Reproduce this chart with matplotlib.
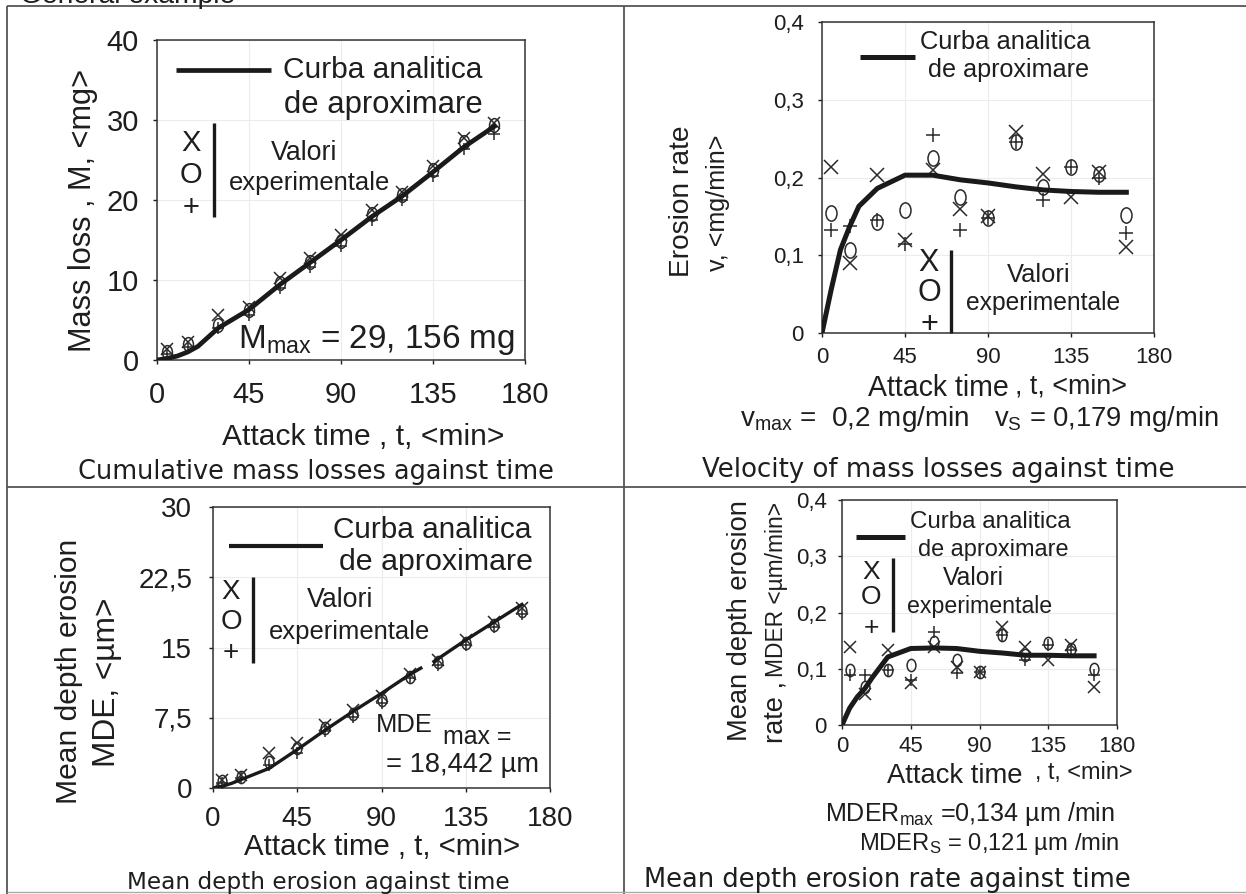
import matplotlib
matplotlib.use('Agg')
import matplotlib.pyplot as plt
import numpy as np
from matplotlib.path import Path
from matplotlib.transforms import Affine2D
from matplotlib.lines import Line2D

# ---------------- data ----------------
t_pts = [5, 15, 30, 45, 60, 75, 90, 105, 120, 135, 150, 165]
t_curve = [0, 5, 10, 15, 20, 30, 45, 60, 75, 90, 105, 120, 135, 150, 165]

# Panel 1: cumulative mass loss (mg)
m_curve = [0, 0.2, 0.5, 1.0, 1.7, 4.0, 6.3, 9.4, 12.2, 15.0, 17.9, 20.5, 23.5, 26.6, 29.2]
m_x = [1.4, 2.3, 5.6, 6.6, 10.2, 12.8, 15.6, 18.8, 21.0, 24.2, 27.8, 29.6]
m_o = [1.0, 2.0, 4.4, 6.2, 9.6, 12.2, 14.9, 18.2, 20.6, 23.8, 27.2, 29.4]
m_p = [0.7, 1.6, 4.0, 5.6, 9.0, 11.6, 14.2, 17.5, 20.0, 23.0, 26.4, 28.2]

# Panel 2: erosion rate (mg/min)
v_curve = [0, 0.056, 0.107, 0.137, 0.163, 0.186, 0.203, 0.203, 0.197, 0.193, 0.188, 0.184, 0.182, 0.181, 0.181]
v_x = [0.214, 0.090, 0.203, 0.120, 0.210, 0.160, 0.150, 0.259, 0.205, 0.175, 0.207, 0.111]
v_o = [0.154, 0.107, 0.143, 0.158, 0.225, 0.175, 0.148, 0.246, 0.188, 0.214, 0.205, 0.152]
v_p = [0.133, 0.137, 0.145, 0.115, 0.255, 0.133, 0.148, 0.246, 0.171, 0.214, 0.200, 0.128]

# Panel 3: mean depth erosion (um)
t_curve3 = [0, 5, 10, 15, 20, 30, 45, 60, 75, 90, 105, 111, 114, 118, 135, 150, 165]
mde_curve = [0, 0.2, 0.5, 0.9, 1.3, 2.1, 4.1, 6.2, 8.2, 10.1, 12.1, 12.8, np.nan, 13.5, 15.8, 17.7, 19.6]
mde_x = [0.9, 1.4, 3.7, 4.8, 6.7, 8.3, 9.8, 12.2, 13.7, 15.8, 17.7, 19.2]
mde_o = [0.7, 1.2, 2.8, 4.3, 6.4, 7.9, 9.4, 11.9, 13.4, 15.5, 17.4, 18.9]
mde_p = [0.5, 1.1, 2.5, 3.7, 6.1, 7.6, 9.1, 11.7, 13.1, 15.3, 17.2, 18.6]

# Panel 4: mean depth erosion rate (um/min)
r_curve = [0, 0.030, 0.050, 0.065, 0.085, 0.121, 0.136, 0.137, 0.136, 0.131, 0.128, 0.124, 0.124, 0.123, 0.123]
r_x = [0.139, 0.056, 0.133, 0.074, 0.139, 0.104, 0.095, 0.175, 0.139, 0.116, 0.142, 0.068]
r_o = [0.098, 0.068, 0.098, 0.107, 0.148, 0.116, 0.095, 0.160, 0.124, 0.145, 0.136, 0.100]
r_p = [0.089, 0.089, 0.098, 0.080, 0.166, 0.092, 0.095, 0.160, 0.116, 0.142, 0.133, 0.089]

x_ticks = [0, 45, 90, 135, 180]
x_ticklabels = ['0', '45', '90', '135', '180']
y1_ticks = [0, 10, 20, 30, 40]
y1_labels = ['0', '10', '20', '30', '40']
yv_ticks = [0, 0.1, 0.2, 0.3, 0.4]
yv_labels = ['0', '0,1', '0,2', '0,3', '0,4']
y3_ticks = [0, 7.5, 15, 22.5, 30]
y3_labels = ['0', '7,5', '15', '22,5', '30']

# ---------------- style ----------------
W, H = 1246, 894
plt.rcParams['font.family'] = ['Liberation Sans', 'DejaVu Sans']
plt.rcParams['mathtext.fontset'] = 'custom'
plt.rcParams['mathtext.rm'] = 'Liberation Sans'
plt.rcParams['mathtext.it'] = 'Liberation Sans'
plt.rcParams['mathtext.bf'] = 'Liberation Sans'
TXT = '#1e1e1e'
LINE = '#1a1a1a'
MK = '#2a2a2a'
MU = '\u00b5'

fig = plt.figure(figsize=(W / 100, H / 100), dpi=100)
fig.patch.set_facecolor('white')
renderer = fig.canvas.get_renderer()


def put(s, x, y, length=None, size=14, rot=0, ha='center', va='center', family=None,
        color=TXT, **extra):
    kw = dict(extra)
    if family:
        kw['family'] = family
    t = fig.text(x / W, 1 - y / H, s, fontsize=size, rotation=rot, ha=ha, va=va, color=color, **kw)
    if length:
        bb = t.get_window_extent(renderer=renderer)
        cur = bb.height if rot else bb.width
        t.set_fontsize(size * length / cur)
    return t


def fline(x0, y0, x1, y1, lw=1.0, color='#555555'):
    fig.add_artist(Line2D([x0 / W, x1 / W], [1 - y0 / H, 1 - y1 / H], transform=fig.transFigure,
                          lw=lw, color=color, solid_capstyle='butt'))


def make_ax(l, t, r, b):
    return fig.add_axes([l / W, 1 - b / H, (r - l) / W, (b - t) / H])


ellipse = Path.unit_circle().transformed(Affine2D().scale(0.72, 1.0))


def style_ax(ax, ylim, yticks, ylabels, fs, xpad, ypad):
    ax.set_xlim(0, 180)
    ax.set_ylim(*ylim)
    ax.set_xticks(x_ticks)
    ax.set_xticklabels(x_ticklabels)
    ax.set_yticks(yticks)
    ax.set_yticklabels(ylabels)
    ax.tick_params(axis='both', labelsize=fs, colors=TXT, length=3, width=1.0, direction='out')
    ax.tick_params(axis='x', pad=xpad)
    ax.tick_params(axis='y', pad=ypad)
    ax.grid(True, color='#ececec', lw=0.8)
    ax.set_axisbelow(True)
    for sp in ax.spines.values():
        sp.set_color('#333333')
        sp.set_linewidth(1.1)


def points(ax, xs, os_, ps, ms):
    ax.plot(t_pts, xs, ls='none', marker='x', ms=ms, mew=1.1, color=MK)
    ax.plot(t_pts, os_, ls='none', marker=ellipse, ms=ms * 1.1, mew=1.1, mfc='none', mec=MK)
    ax.plot(t_pts, ps, ls='none', marker='+', ms=ms, mew=1.1, color=MK)


def legend_block(lx0, lx1, ly, lw, c1, c2, mk_x, mk_ys, mk_size, bar_x, bar_y0, bar_y1, v1, v2):
    fline(lx0, ly, lx1, ly, lw=lw, color=LINE)
    put('Curba analitica', c1[0], c1[1], length=c1[2])
    put('de aproximare', c2[0], c2[1], length=c2[2])
    for s, yy in zip(['X', 'O', '+'], mk_ys):
        put(s, mk_x, yy, size=mk_size)
    fline(bar_x, bar_y0, bar_x, bar_y1, lw=2.4, color=LINE)
    put('Valori', v1[0], v1[1], length=v1[2])
    put('experimentale', v2[0], v2[1], length=v2[2])


# ---------------- table frame ----------------
fline(7, 6, W, 6, lw=1.3)
fline(7, 6, 7, H, lw=1.3)
fline(624, 6, 624, H, lw=1.3)
fline(7, 487, W, 487, lw=1.3)
fline(7, 892, W, 892, lw=1.0, color='#aaaaaa')
put('General example', 20, 3, length=217, ha='left', va='baseline')

# ---------------- panel 1 ----------------
ax1 = make_ax(157, 40, 525, 360)
style_ax(ax1, (0, 40), y1_ticks, y1_labels, 21, 12, 10)
ax1.plot(t_curve, m_curve, color=LINE, lw=3.4, zorder=3)
points(ax1, m_x, m_o, m_p, 9)
legend_block(176, 271, 70, 3.4, (383, 70, 201), (383, 105, 200), 191, (143, 175, 208), 21,
             214, 123, 217, (304, 153, 67), (310, 183, 162))
put(r'M$_{\mathregular{max}}$ = 29, 156 mg', 376, 340, length=279)
put('Mass loss , M, <mg>', 83, 210, length=286, rot=90)
put('Attack time , t, <min>', 363, 437, length=283)
put('Cumulative mass losses against time', 316, 472, length=479, family='DejaVu Sans')

# ---------------- panel 2 ----------------
ax2 = make_ax(822, 22, 1154, 333)
style_ax(ax2, (0, 0.4), yv_ticks, yv_labels, 16, 7, 10)
ax2.plot(t_curve, v_curve, color=LINE, lw=3.6, zorder=3)
points(ax2, v_x, v_o, v_p, 10)
legend_block(860, 915, 57, 3.6, (1005, 42, 172), (1008, 70, 162), 929, (263, 293, 325), 22,
             951, 250, 333, (1039, 275, 64), (1043, 303, 156))
put('Erosion rate', 682, 201, length=153, rot=90)
put('v, <mg/min>', 718, 203, length=137, rot=90)
put('Attack time', 938, 388, length=142)
put(', t, <min>', 1071, 386, length=112)
put(r'v$_{\mathregular{max}}$ =  0,2 mg/min', 855, 419, length=231)
put(r'v$_{\mathregular{S}}$ = 0,179 mg/min', 1106, 419, length=226)
put('Velocity of mass losses against time', 938, 470, length=473, family='DejaVu Sans')

# ---------------- panel 3 ----------------
ax3 = make_ax(213, 507, 550, 788)
style_ax(ax3, (0, 30), y3_ticks, y3_labels, 20, 10, 12)
ax3.plot(t_curve3, mde_curve, color=LINE, lw=2.4, zorder=3)
points(ax3, mde_x, mde_o, mde_p, 8)
legend_block(229, 323, 546, 3.0, (432, 530, 200), (436, 562, 196), 231, (592, 622, 653), 20,
             253, 577, 663, (340, 600, 67), (350, 632, 162))
put('MDE', 404, 725, length=57)
put('max =', 477, 737, length=69)
put('= 18,442 ' + MU + 'm', 463, 765, length=154)
put('Mean depth erosion', 69, 671, length=267, rot=90)
put('MDE, <' + MU + 'm>', 107, 682, length=170, rot=90)
put('Attack time , t, <min>', 382, 847, length=277)
put('Mean depth erosion against time', 318, 883, length=383, family='DejaVu Sans')

# ---------------- panel 4 ----------------
ax4 = make_ax(842, 500, 1117, 725)
style_ax(ax4, (0, 0.4), yv_ticks, yv_labels, 16, 5, 8)
ax4.plot(t_curve, r_curve, color=LINE, lw=3.6, zorder=3)
points(ax4, r_x, r_o, r_p, 8)
legend_block(856, 905, 537, 3.6, (990, 522, 162), (993, 550, 152), 871, (572, 597, 628), 19,
             893, 558, 632, (973, 578, 62), (980, 607, 146))
yl4 = put('Mean depth erosion', 740, 621, length=243, rot=90)
rt = put('rate ,', 776, 743, size=yl4.get_fontsize(), rot=90, ha='left', va='center',
         rotation_mode='anchor')
rb = rt.get_window_extent(renderer=renderer)
top_rate = H - rb.y1  # pixel y (from top) where "rate ," ends
start = top_rate - 3
put('MDER <' + MU + 'm/min>', 776, (start + 502) / 2, length=start - 502, rot=90)
put('Attack time', 955, 776, length=136)
put(', t, <min>', 1084, 772, length=98)
put('MDER$_{\\mathregular{max}}$ =0,134 ' + MU + 'm /min', 970, 814, length=291)
put('MDER$_{\\mathregular{S}}$ = 0,121 ' + MU + 'm /min', 989, 844, length=261)
put('Mean depth erosion rate against time', 887, 880, length=487, family='DejaVu Sans')

fig.savefig('out.png', dpi=100)
